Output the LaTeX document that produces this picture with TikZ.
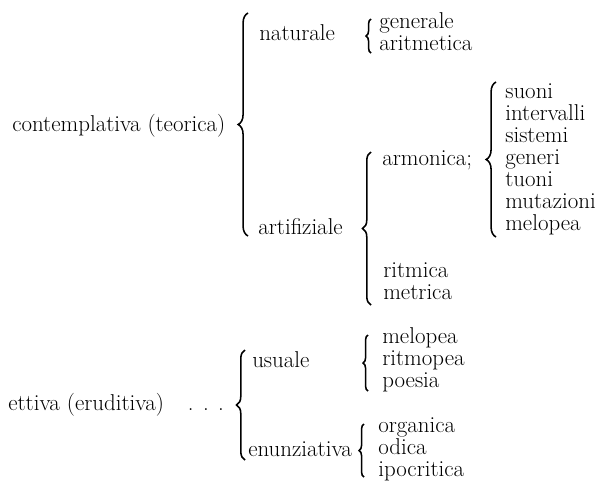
\RequirePackage{fix-cm}
\documentclass[tikz,border=0pt]{standalone}
\usetikzlibrary{decorations.pathreplacing}
\begin{document}
\begin{tikzpicture}[x=0.025cm, y=-0.025cm,
  lbl/.style={anchor=west, inner sep=0pt, font=\fontsize{16.3}{15.65}\selectfont},
  lst/.style={lbl, align=left},
  brc/.style={decorate, decoration={brace, amplitude=#1}, line width=1.1pt},
  brc/.default=6pt,
]
\useasboundingbox (0,0) rectangle (603,482);

%% ── Contemplativa (teorica) ─────────────────────────────────────────────────
\node[lbl] (cont) at (12,126)  {contemplativa (teorica)};
\node[lbl] (nat)  at (259,33)  {naturale};
\node[lst] (gen)  at (379,32)  {generale\\aritmetica};
\node[lbl] (art)  at (258,227) {artifiziale};
\node[lbl] (arm)  at (382,160) {armonica;};
\node[lst] (armlist) at (505,159)
  {suoni\\intervalli\\sistemi\\generi\\tuoni\\mutazioni\\melopea};
\node[lst] (rit)  at (383,281) {ritmica\\metrica};

%% ── Ettiva (eruditiva) ─────────────────────────────────────────────────────
\node[lbl] (erud) at (8,405)
  {ettiva (eruditiva)\hspace{17pt}.\hspace{6.7pt}.\hspace{6.7pt}.};
\node[lbl] (usu)  at (252,360) {usuale};
\node[lst] (usulist) at (382,360) {melopea\\ritmopea\\poesia};
\node[lbl] (enu)  at (248,449) {enunziativa};
\node[lst] (enulist) at (378,449) {organica\\odica\\ipocritica};

%% ── Braces (bottom end, top end) ───────────────────────────────────────────
\coordinate (contB) at (248,236); \coordinate (contT) at (248,13);
\coordinate (natB)  at (371,53);  \coordinate (natT)  at (371,19);
\coordinate (artB)  at (371,305); \coordinate (artT)  at (371,152);
\coordinate (armB)  at (496,237); \coordinate (armT)  at (496,82);
\coordinate (erudB) at (245,460); \coordinate (erudT) at (245,350);
\coordinate (usuB)  at (368,391); \coordinate (usuT)  at (368,335);
\coordinate (enuB)  at (364,477); \coordinate (enuT)  at (364,424);

\draw[brc=7pt]   (contB) -- (contT);
\draw[brc=3.5pt] (natB)  -- (natT);
\draw[brc=6pt]   (artB)  -- (artT);
\draw[brc=7pt]   (armB)  -- (armT);
\draw[brc=6pt]   (erudB) -- (erudT);
\draw[brc=3.5pt] (usuB)  -- (usuT);
\draw[brc=3.5pt] (enuB)  -- (enuT);

\end{tikzpicture}
\end{document}
